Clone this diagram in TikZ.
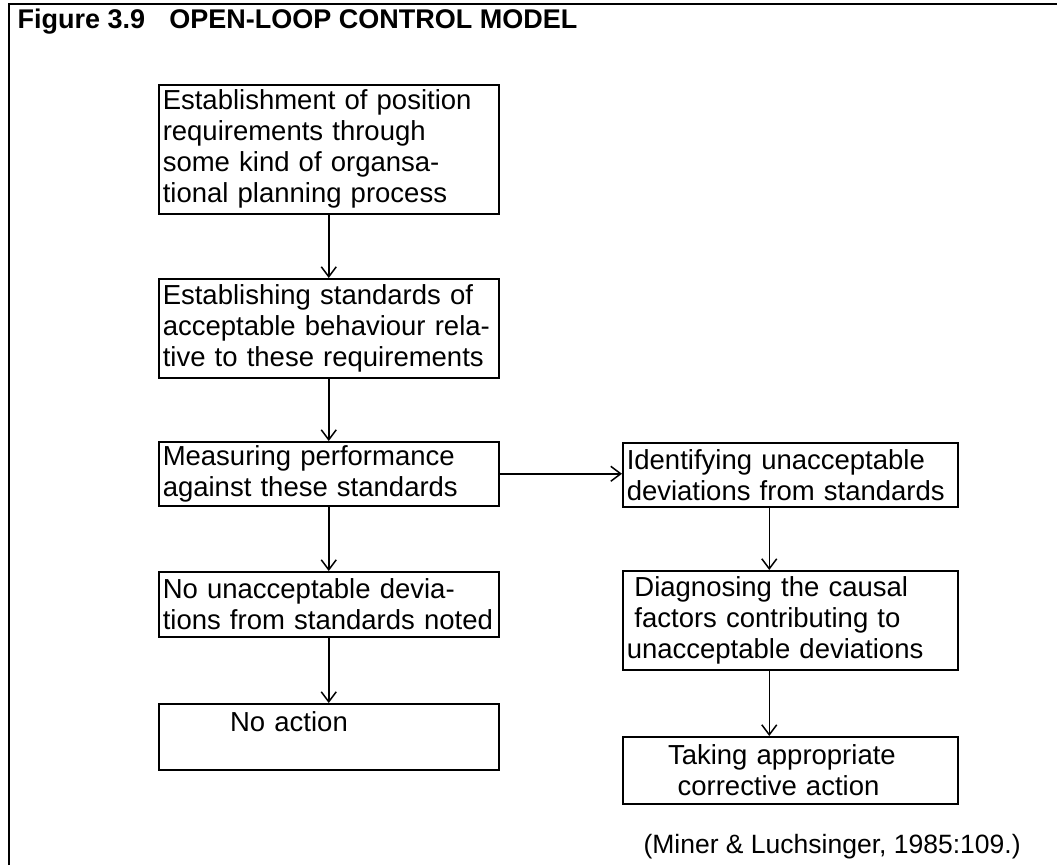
\documentclass[tikz,border=0pt]{standalone}
\usepackage{fontspec}
\setmainfont{Liberation Sans}
\usetikzlibrary{arrows.meta}
\newcommand\stagefont{\fontsize{27.5}{31}\selectfont}
\tikzset{
  stage/.style={draw, line width=1.5pt, anchor=north west, align=left,
    inner xsep=4pt, inner ysep=0pt, font=\stagefont},
  leftstage/.style={stage, text width=332pt},
  rightstage/.style={stage, text width=327pt},
  flow/.style={-{Straight Barb[length=10pt,width=15pt]}, line width=1.5pt},
}
\begin{document}
\begin{tikzpicture}[x=1pt, y=-1pt]
  \useasboundingbox (0,0) rectangle (1057,865);
  % frame
  \draw[line width=1.3pt] (9,865) -- (9,4) -- (1057,4);
  \node[anchor=base west, font=\fontsize{27}{31}\selectfont\bfseries] (title) at (14,28)
    {Figure 3.9\hspace{0.9em}OPEN-LOOP CONTROL MODEL};
  % left column
  \node[leftstage, minimum height=129] (plan) at (158,84)
    {Establishment of position\\requirements through\\some kind of organsa-\\tional planning process};
  \node[leftstage, minimum height=99] (std) at (158,278)
    {Establishing standards of\\acceptable behaviour rela-\\tive to these requirements};
  \node[leftstage, minimum height=64] (measure) at (158,441)
    {Measuring performance\\against these standards};
  \node[leftstage, minimum height=65] (nodev) at (158,571)
    {No unacceptable devia-\\tions from standards noted};
  \node[leftstage, minimum height=66] (noact) at (158,703)
    {\hspace*{2.45em}No action\\\mbox{}};
  % right column
  \node[rightstage, minimum height=64] (ident) at (622,442)
    {Identifying unacceptable\\deviations from standards};
  \node[rightstage, minimum height=99] (diag) at (622,570)
    {\hspace*{0.28em}Diagnosing the causal\\\hspace*{0.28em}factors contributing to\\unacceptable deviations};
  \node[rightstage, minimum height=67] (correct) at (622,736)
    {\hspace*{1.5em}Taking appropriate\\\hspace*{1.85em}corrective action};
  \node[anchor=base west, font=\fontsize{26.5}{30}\selectfont] (source) at (640,853)
    {(Miner \& Luchsinger, 1985:109.)};
  \begin{scope}[flow]
    \draw (plan) to (std);
    \draw (std) to (measure);
    \draw (measure) to (nodev);
    \draw (nodev) to (noact);
    \draw (measure.east) to (measure.east -| ident.west);
    \draw ([xshift=-21pt]ident.south) to ([xshift=-21pt]diag.north);
    \draw ([xshift=-21pt]diag.south) to ([xshift=-21pt]correct.north);
  \end{scope}
\end{tikzpicture}
\end{document}
